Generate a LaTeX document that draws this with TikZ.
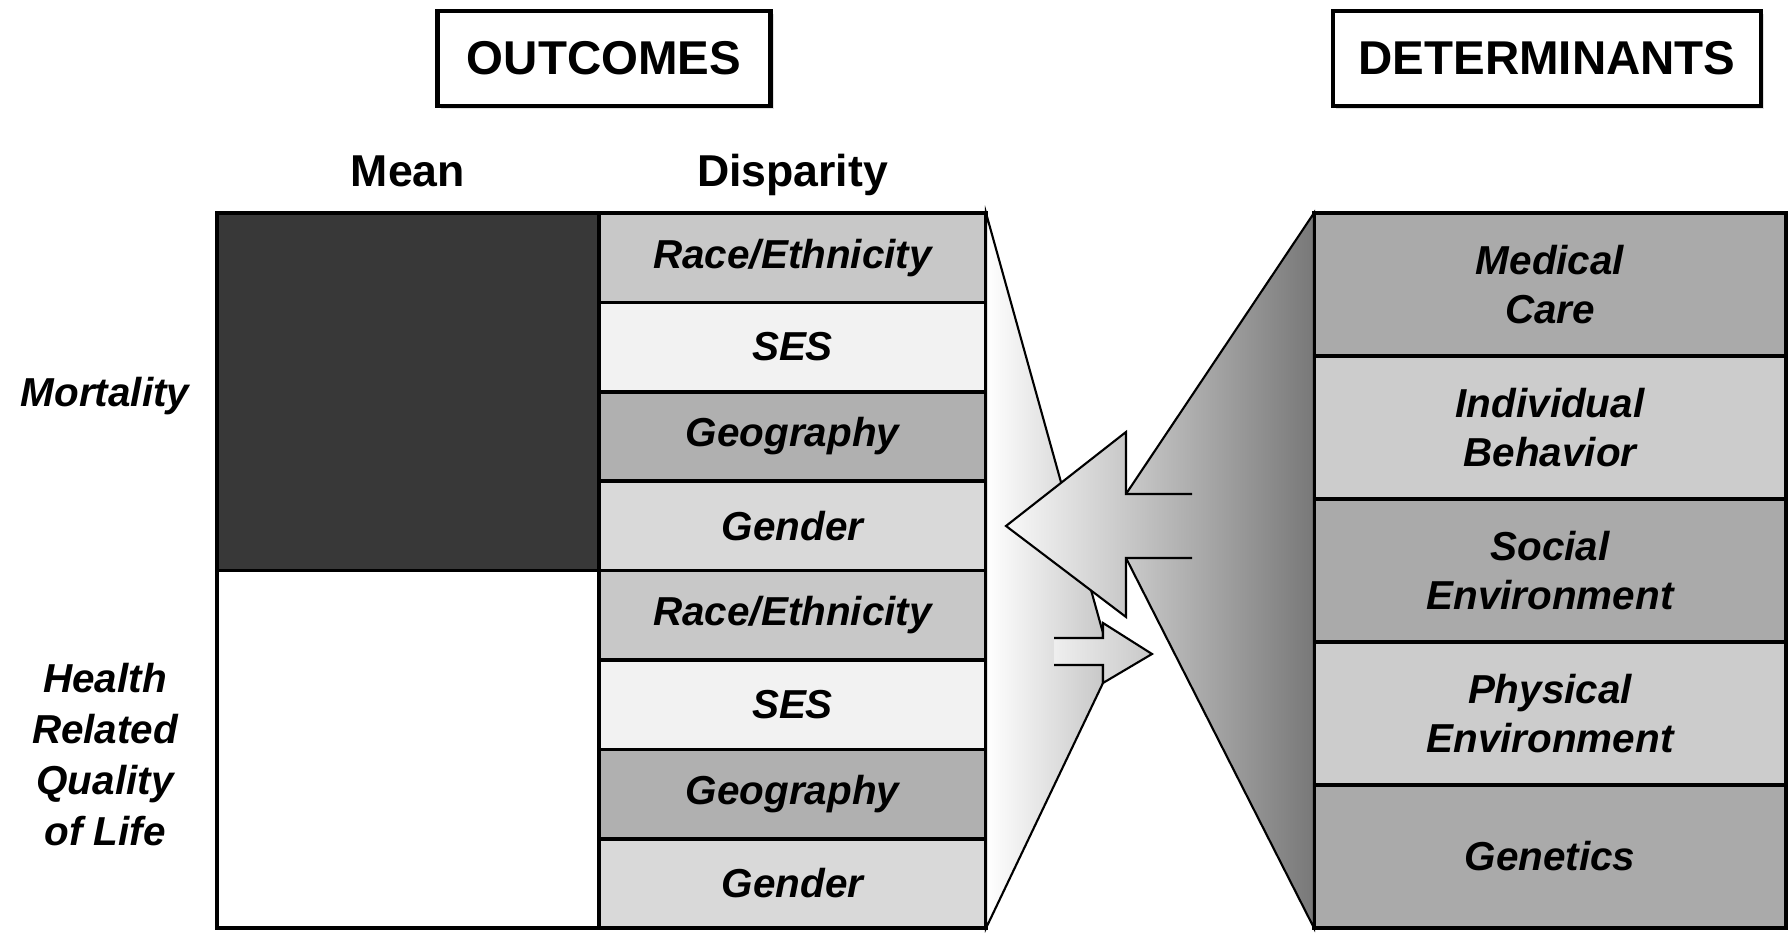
\documentclass[tikz,border=0pt]{standalone}
\usepackage{fontspec}
\setmainfont{Liberation Sans}
\usepackage{tikz}
\usetikzlibrary{positioning, shadows}
\usepackage{xcolor}
\definecolor{meandark}{RGB}{56, 56, 56}
\definecolor{racegray}{RGB}{200, 200, 200}
\definecolor{sesgray}{RGB}{242, 242, 242}
\definecolor{geogray}{RGB}{176, 176, 176}
\definecolor{gendergray}{RGB}{217, 217, 217}
\definecolor{detdark}{RGB}{170, 170, 170}
\definecolor{detlight}{RGB}{204, 204, 204}
\definecolor{leftfade}{RGB}{200, 200, 200}
\definecolor{rightfade}{RGB}{202, 202, 202}
\definecolor{funneldark}{RGB}{120, 120, 120}
\definecolor{arrowend}{RGB}{173, 173, 173}

\begin{document}
\begin{tikzpicture}[
  cell/.style      = {rectangle, draw, line width=1pt, inner sep=0pt, outer sep=0pt,
                      align=center, font=\fontsize{11.5}{13.7}\selectfont\bfseries\itshape},
  meancell/.style  = {cell, minimum width=3.82cm, minimum height=3.575cm},
  dispcell/.style  = {cell, minimum width=3.87cm, minimum height=0.894cm},
  detcell/.style   = {cell, minimum width=4.72cm, minimum height=1.43cm},
  header/.style    = {rectangle, draw, line width=1.2pt, fill=white, minimum height=0.95cm,
                      font=\fontsize{13.5}{16}\selectfont\bfseries,
                      drop shadow={opacity=0.25, shadow xshift=0.03cm, shadow yshift=-0.03cm}},
  colhead/.style   = {anchor=base, inner sep=0pt, font=\fontsize{12.7}{15}\selectfont\bfseries},
  rowlabel/.style  = {align=center, inner sep=0pt, font=\fontsize{11.5}{14.5}\selectfont\bfseries\itshape},
  funnel/.style    = {line width=0.6pt},
  blockarrow/.style = {line width=0.6pt, line join=miter}
]
\useasboundingbox (0,0) rectangle (17.92,9.33);

%% Headers
\node[header, minimum width=3.33cm] (outcomes) at (6.04,8.745) {OUTCOMES};
\node[header, minimum width=4.28cm] (determinants) at (15.47,8.745) {DETERMINANTS};

%% Mean column
\node[meancell, fill=meandark, anchor=north west] (mortmean) at (2.17,7.20) {};
\node[meancell, fill=white, below=0pt of mortmean] (hrqmean) {};

%% Disparity column
\node[dispcell, fill=racegray, anchor=north west] (race1) at (5.99,7.20) {Race/Ethnicity};
\node[dispcell, fill=sesgray, below=0pt of race1] (ses1) {SES};
\node[dispcell, fill=geogray, below=0pt of ses1] (geo1) {Geography};
\node[dispcell, fill=gendergray, below=0pt of geo1] (gender1) {Gender};
\node[dispcell, fill=racegray, below=0pt of gender1] (race2) {Race/Ethnicity};
\node[dispcell, fill=sesgray, below=0pt of race2] (ses2) {SES};
\node[dispcell, fill=geogray, below=0pt of ses2] (geo2) {Geography};
\node[dispcell, fill=gendergray, below=0pt of geo2] (gender2) {Gender};

%% Column and row labels
\node[colhead] (meanhead) at (mortmean.center |- 0,7.46) {Mean};
\node[colhead] (disphead) at (race1.center |- 0,7.46) {Disparity};
\node[rowlabel] (mortlabel) at (1.05,5.37) {Mortality};
\node[rowlabel, yshift=-0.05cm] (hrqlabel) at (mortlabel |- hrqmean) {Health\\Related\\Quality\\of Life};

%% Determinants column
\node[detcell, fill=detdark, anchor=north west] (medcare) at (13.14,7.20) {Medical\\Care};
\node[detcell, fill=detlight, below=0pt of medcare] (behavior) {Individual\\Behavior};
\node[detcell, fill=detdark, below=0pt of behavior] (social) {Social\\Environment};
\node[detcell, fill=detlight, below=0pt of social] (physical) {Physical\\Environment};
\node[detcell, fill=detdark, below=0pt of physical] (genetics) {Genetics};

%% Funnels
\shadedraw[funnel, left color=white, right color=leftfade]
  (race1.north east) -- (11.03,3.00) -- (11.03,2.50) -- (gender2.south east) -- cycle;
\shadedraw[funnel, left color=rightfade, right color=funneldark]
  (medcare.north west) -- (11.26,4.39) -- (11.26,3.75) -- (genetics.south west) -- cycle;

%% Big arrow (determinants -> outcomes)
\shade[left color=gray!5, right color=arrowend]
  (10.06,4.07) -- (11.26,5.01) -- (11.26,4.39) -- (11.92,4.39)
  -- (11.92,3.75) -- (11.26,3.75) -- (11.26,3.16) -- cycle;
\draw[blockarrow] (11.92,4.39) -- (11.26,4.39) -- (11.26,5.01) -- (10.06,4.07)
  -- (11.26,3.16) -- (11.26,3.75) -- (11.92,3.75);

%% Small arrow (outcomes -> determinants)
\shade[left color=gray!13, right color=leftfade]
  (10.54,2.95) -- (11.03,2.95) -- (11.03,3.10) -- (11.52,2.79)
  -- (11.03,2.50) -- (11.03,2.68) -- (10.54,2.68) -- cycle;
\draw[blockarrow] (10.54,2.95) -- (11.03,2.95) -- (11.03,3.10) -- (11.52,2.79)
  -- (11.03,2.50) -- (11.03,2.68) -- (10.54,2.68);

\end{tikzpicture}
\end{document}
